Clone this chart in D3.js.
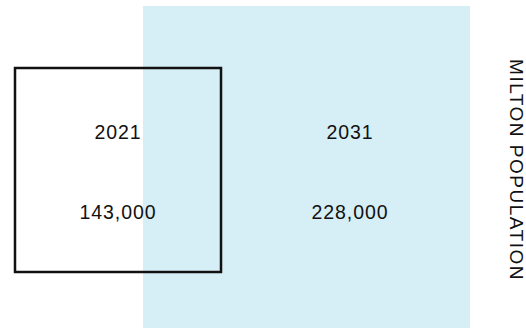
<!DOCTYPE html>
<html>
<head>
<meta charset="utf-8">
<script src="https://cdn.jsdelivr.net/npm/d3@7"></script>
<style>
  html, body { margin: 0; padding: 0; background: #fff; }
  svg { display: block; font-family: "Liberation Sans", Arial, sans-serif; }
</style>
</head>
<body>
<svg id="chart" width="526" height="329"></svg>
<script>
// values
const years = ['2021', '2031'];
const population = [143000, 228000];
const title = 'MILTON POPULATION';

const W = 526, H = 329;
const svg = d3.select('#chart');
const fmt = d3.format(',');

// 2031 is the big light-blue field, 2021 the outlined square laid over it
const blue = { x0: 143, x1: 470, y0: 6, y1: 328 };
const box = { x0: 15, x1: 221, y0: 68, y1: 272 };

svg.append('rect')
  .attr('x', blue.x0).attr('y', blue.y0)
  .attr('width', blue.x1 - blue.x0).attr('height', blue.y1 - blue.y0)
  .attr('fill', '#d6eef5');

svg.append('rect')
  .attr('x', box.x0).attr('y', box.y0)
  .attr('width', box.x1 - box.x0).attr('height', box.y1 - box.y0)
  .attr('fill', 'none')
  .attr('stroke', '#111')
  .attr('stroke-width', 2.5);

// label centres: middle of the square, and middle of the blue part right of it
const x = d3.scaleOrdinal().domain(years).range([118, 350]);

const rows = years.map((y, i) => ({ year: y, pop: population[i] }));

const g = svg.selectAll('g.lbl')
  .data(rows)
  .join('g')
  .attr('class', 'lbl')
  .attr('transform', (d) => `translate(${x(d.year)},0)`);

g.append('text')
  .attr('y', 138.5)
  .attr('text-anchor', 'middle')
  .attr('font-size', 19.5)
  .attr('letter-spacing', 0.9)
  .attr('fill', '#111')
  .text((d) => d.year);

g.append('text')
  .attr('y', 219)
  .attr('text-anchor', 'middle')
  .attr('font-size', 19.5)
  .attr('letter-spacing', 0.9)
  .attr('fill', '#111')
  .text((d) => fmt(d.pop));

svg.append('text')
  .attr('transform', `translate(510,${(57 + 283) / 2}) rotate(90)`)
  .attr('text-anchor', 'middle')
  .attr('font-size', 19)
  .attr('letter-spacing', 1.5)
  .attr('fill', '#111')
  .text(title);
</script>
</body>
</html>
